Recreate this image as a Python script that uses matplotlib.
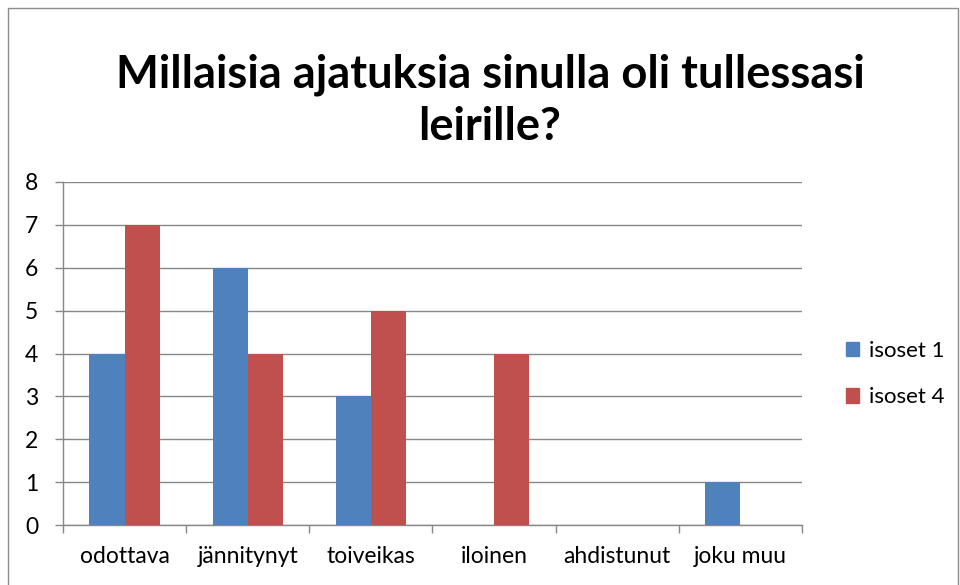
import matplotlib
matplotlib.use("Agg")
import matplotlib.pyplot as plt
from matplotlib.patches import Rectangle, Patch
import numpy as np

categories = ["odottava", "jännitynyt", "toiveikas", "iloinen", "ahdistunut", "joku muu"]
isoset_1 = [4, 6, 3, 0, 0, 1]
isoset_4 = [7, 4, 5, 4, 0, 0]
series_names = ["isoset 1", "isoset 4"]
title = "Millaisia ajatuksia sinulla oli tullessasi\nleirille?"

BLUE = "#4F81BD"
RED = "#C0504D"
GRID = "#878787"

plt.rcParams["font.family"] = ["Lato", "DejaVu Sans"]

W, H = 960, 585
fig = plt.figure(figsize=(W / 100, H / 100), dpi=100)

# outer chart border
fig.patches.append(Rectangle((8 / W, -0.05), (958 - 8) / W, 1.05 - 8 / H,
                             transform=fig.transFigure, fill=False,
                             edgecolor="#8c8c8c", linewidth=1.0))

# plot area in pixels: x 63..802, y 182..525
ax = fig.add_axes([63 / W, (H - 525) / H, (802 - 63) / W, (525 - 182) / H])

x = np.arange(len(categories))
bw = 0.285
ax.bar(x - bw / 2, isoset_1, bw, color=BLUE, zorder=3)
ax.bar(x + bw / 2, isoset_4, bw, color=RED, zorder=3)

ax.set_xlim(-0.5, len(categories) - 0.5)
ax.set_ylim(0, 8)
ax.set_yticks(range(0, 9))
ax.yaxis.grid(True, color=GRID, linewidth=1.0, zorder=0)

ax.set_xticks(x)
ax.set_xticklabels(categories)
ax.set_xticks(np.arange(-0.5, len(categories)), minor=True)
ax.tick_params(axis="x", which="major", length=0, pad=15, labelsize=16.5)
ax.tick_params(axis="x", which="minor", length=6, color=GRID, width=1.0)
ax.tick_params(axis="y", length=6, color=GRID, width=1.0, pad=12, labelsize=16.5)

for s in ["top", "right"]:
    ax.spines[s].set_visible(False)
for s in ["left", "bottom"]:
    ax.spines[s].set_color(GRID)
    ax.spines[s].set_linewidth(1.0)

fig.text(490 / W, 1 - 101 / H, title, ha="center", va="center",
         fontsize=32.7, fontweight="bold", linespacing=1.3)

handles = [Patch(color=BLUE), Patch(color=RED)]
fig.legend(handles, series_names, loc="center left",
           bbox_to_anchor=(846 / W, 1 - 374 / H), frameon=False,
           borderaxespad=0, borderpad=0,
           fontsize=16, handlelength=0.6, handleheight=0.6,
           handletextpad=0.45, labelspacing=1.2)

fig.savefig("out.png", dpi=100)
